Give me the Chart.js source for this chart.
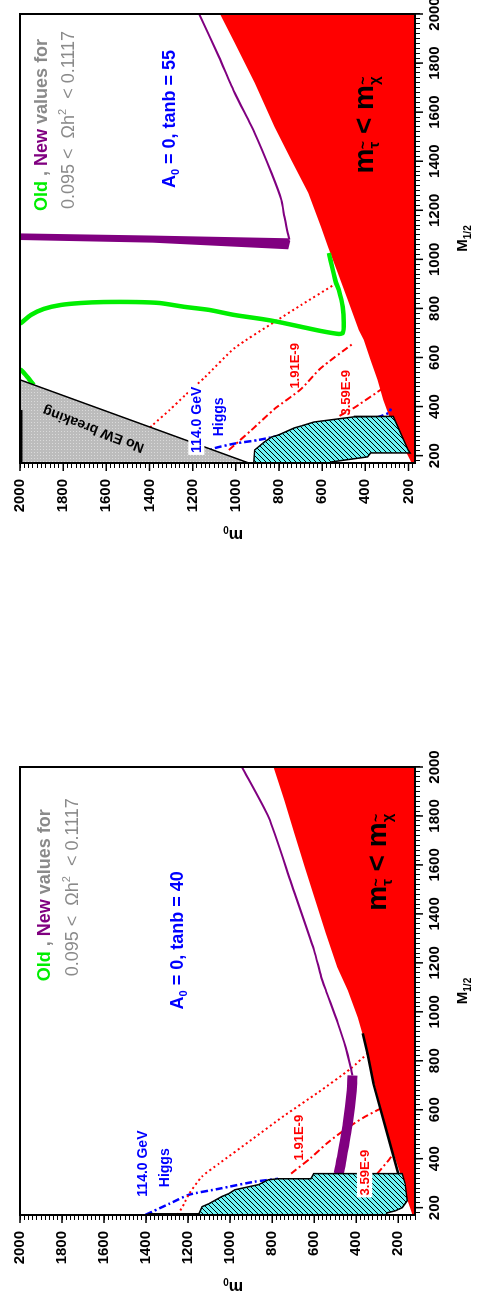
<!DOCTYPE html>
<html>
<head>
<meta charset="utf-8">
<title>M1/2 - m0 planes, tan beta = 40 and 55</title>
<script src="https://cdn.jsdelivr.net/npm/chart.js@4.4.1/dist/chart.umd.min.js"></script>
<style>
  html, body { margin:0; padding:0; background:#fff; width:480px; height:1306px; overflow:hidden; }
  #rot { position:absolute; left:0; top:0; width:1340px; height:480px; transform-origin:0 0;
         transform:translate(0px,1306px) rotate(-90deg); }
  #w40 { position:absolute; left:0; top:0; width:600px; height:480px; }
  #w55 { position:absolute; left:600px; top:0; width:740px; height:480px; }
</style>
</head>
<body>
<div id="rot">
  <div id="w40"><canvas id="c40" width="600" height="480"></canvas></div>
  <div id="w55"><canvas id="c55" width="740" height="480"></canvas></div>
</div>
<script>
// ================= DATA (points are [M_1/2, m_0] in GeV) =================
const tickLabelValues = [200, 400, 600, 800, 1000, 1200, 1400, 1600, 1800, 2000];
const tickLabels = ['200', '400', '600', '800', '1000', '1200', '1400', '1600', '1800', '2000'];

// ---- tan beta = 40 panel ----
const red40 = [[163,129],[257,167],[339,190],[462,238],[637,294],[760,330],[895,365],[977,393],[1088,440],
  [1182,490],[1321,545],[1456,595],[1591,645],[1730,695],[1865,742],[2000,794]];
const old40 = [[912,369],[830,346],[707,318],[502,252],[339,200]];
const purpleThin40 = [[2000,944],[1795,817],[1525,709],[1251,600],[1145,567],[1088,544],[953,487],[854,450],[772,426],[740,418]];
const purpleBand40 = [[740,418],[678,421],[543,440],[404,468],[339,483]];
const cyan40 = [[165,1402],[170,1402],[175,1383],[175,1148],[204,1134],[216,1101],[245,1040],[257,1007],[273,978],
  [294,865],[314,818],[318,771],[318,616],[339,602],[339,181],[298,167],[228,157],[200,181],[187,214],[179,252],[167,261],[165,261]];
const dotted40 = [[171,1249],[216,1219],[257,1195],[327,1134],[380,1053],[478,897],[576,742],[670,582],[768,426],[830,346]];
const bsg191_40 = [[339,710],[404,615],[466,535],[527,440],[568,365],[609,275]];
const bsg359_40 = [[339,300],[400,240],[430,215]];
const higgs40 = [[171,1402],[216,1289],[253,1195],[277,1054],[306,884],[318,771]];

// ---- tan beta = 55 panel ----
const red55 = [[165,183],[183,193],[264,239],[346,284],[427,317],[509,344],[590,376],[672,408],[712,431],[835,482],
  [945,528],[1051,573],[1132,606],[1271,665],[1405,743],[1540,821],[1719,913],[1882,1005],[2000,1073]];
const noEW55 = [[150,877],[170,940],[509,2000],[541,2100]];
const edgeBar55 = [[170,2000],[386,2000]];
const cyan55 = [[165,917],[170,917],[223,913],[256,867],[276,835],[284,803],[313,729],[321,697],[337,638],[358,454],
  [360,271],[223,202],[211,193],[211,376],[195,390],[174,560],[165,560]];
const green55 = [[735,2010],[741,1995],[773,1950],[798,1890],[814,1812],[822,1720],[826,1615],[826,1463],[822,1353],
  [806,1234],[794,1124],[773,1005],[757,881],[745,803],[725,697],[708,606],[696,523],[700,505],[741,500],[806,505],
  [875,523],[908,537],[1026,569]];
const green55b = [[552,2010],[549,1995],[520,1965],[488,1936]];
const purpleBand55 = [[1106,2010],[1097,1385],[1086,760],[1075,748],[1041,757],[1068,1385],[1079,2010]];
const purpleThin55 = [[1080,752],[1107,760],[1173,775],[1242,789],[1352,835],[1515,913],[1678,1005],[1825,1078],[2000,1170]];
const dotted55 = [[300,1415],[325,1385],[386,1307],[447,1234],[521,1142],[639,1005],[745,821],[814,697],[896,546]];
const bsg191_55 = [[223,1032],[305,927],[390,821],[470,700],[557,606],[659,454]];
const bsg359_55 = [[362,520],[394,454],[468,330],[490,300]];
const higgs55 = [[205,1160],[231,1096],[250,1000],[264,894],[300,700],[340,500],[355,350],[375,290],[392,282]];

// ================= STYLE =================
const FONT = "'Liberation Sans', Arial, Helvetica, sans-serif";
function hasFont(name) {
  const c = document.createElement('canvas').getContext('2d');
  c.font = '20px monospace'; const a = c.measureText('abcdefghij0123456789').width;
  c.font = "20px '" + name + "', monospace"; const b = c.measureText('abcdefghij0123456789').width;
  return Math.abs(a - b) > 0.5;
}
const NARROW = hasFont('Liberation Sans Narrow') ? "'Liberation Sans Narrow', 'Liberation Sans', sans-serif" : null;
const TICKFONT = NARROW ? { family: NARROW, size: 18, weight: 'bold' } : { family: FONT, size: 15, weight: 'bold' };
const SMALL = NARROW ? { f: NARROW, s: 16 } : { f: FONT, s: 13 };
const MID = NARROW ? { f: NARROW, s: 17 } : { f: FONT, s: 14 };

const GREEN = '#00ee00', PURPLE = '#800080', GREY = '#8a8a8a', BLUE = '#0000ff', RED = '#ff0000';

function greyPattern() {
  const c = document.createElement('canvas'); c.width = 3; c.height = 3;
  const g = c.getContext('2d');
  g.fillStyle = '#bcbcbc'; g.fillRect(0, 0, 3, 3);
  g.fillStyle = '#dadada'; g.fillRect(1, 1, 1, 1);
  return g.createPattern(c, 'repeat');
}
function hatchPattern() {
  const s = 5, c = document.createElement('canvas'); c.width = s; c.height = s;
  const g = c.getContext('2d');
  g.fillStyle = '#6cf6f6'; g.fillRect(0, 0, s, s);
  g.strokeStyle = '#000'; g.lineWidth = 1;
  g.beginPath();
  g.moveTo(0, s); g.lineTo(s, 0);
  g.moveTo(-1, 1); g.lineTo(1, -1);
  g.moveTo(s - 1, s + 1); g.lineTo(s + 1, s - 1);
  g.stroke();
  return g.createPattern(c, 'repeat');
}
const GREYPAT = greyPattern(), HATCH = hatchPattern();

const P = a => a.map(p => ({ x: p[0], y: p[1] }));
function area(arr, bg, fill, order, extra) {
  return Object.assign({ data: P(arr), showLine: true, fill: fill, backgroundColor: bg, borderWidth: 0,
    borderColor: 'rgba(0,0,0,0)', pointRadius: 0, clip: 0, tension: 0, order: order }, extra || {});
}
function curve(arr, color, width, dash, order, extra) {
  return Object.assign({ data: P(arr), showLine: true, fill: false, borderColor: color, borderWidth: width,
    borderDash: dash || [], backgroundColor: 'rgba(0,0,0,0)', pointRadius: 0, clip: 0, tension: 0.2, order: order }, extra || {});
}
const DOT = [2, 3], DASHDOT = [7, 3, 2, 3];

// ================= TEXT ANNOTATIONS (placed in data coordinates) =================
function legendRuns() {
  return [{ t: 'Old', s: 18, c: GREEN }, { t: ' , ', s: 18, c: GREY }, { t: 'New', s: 18, c: PURPLE }, { t: ' values for', s: 18, c: GREY }];
}
function omegaRuns() {
  return [{ t: '0.095 <  \u03A9h', s: 18, w: 'normal', c: GREY }, { t: '2', s: 11, w: 'normal', c: GREY, dy: -8 },
          { t: '  < 0.1117', s: 18, w: 'normal', c: GREY }];
}
function a0Runs(tb) {
  return [{ t: 'A', s: 18, c: BLUE }, { t: '0', s: 11, c: BLUE, dy: 4 }, { t: ' = 0, tanb = ' + tb, s: 18, c: BLUE }];
}
function staRuns() {
  return [{ t: 'm', s: 28, c: '#000' }, { t: '\u03C4', s: 15, c: '#000', dy: 6, tilde: true },
          { t: ' < m', s: 28, c: '#000' }, { t: '\u03C7', s: 15, c: '#000', dy: 6, tilde: true }];
}
const ANNOT = {
  c40: [
    { M: 1476, m0: 1887, runs: legendRuns() },
    { M: 1509, m0: 1755, runs: omegaRuns() },
    { M: 1292, m0: 1255, runs: a0Runs(40) },
    { M: 1611, m0: 308, runs: staRuns() },
    { M: 486, m0: 676, runs: [{ t: '1.91E-9', s: SMALL.s, f: SMALL.f, c: RED }] },
    { M: 343, m0: 360, bg: true, runs: [{ t: '3.59E-9', s: SMALL.s, f: SMALL.f, c: RED }] },
    { M: 380, m0: 1420, runs: [{ t: '114.0 GeV', s: MID.s, f: MID.f, c: BLUE }] },
    { M: 363, m0: 1317, runs: [{ t: 'Higgs', s: MID.s, f: MID.f, c: BLUE }] }
  ],
  c55: [
    { M: 1548, m0: 1904, runs: legendRuns() },
    { M: 1568, m0: 1780, runs: omegaRuns() },
    { M: 1572, m0: 1312, runs: a0Runs(55) },
    { M: 1548, m0: 413, runs: staRuns() },
    { M: 566, m0: 729, runs: [{ t: '1.91E-9', s: SMALL.s, f: SMALL.f, c: RED }] },
    { M: 456, m0: 491, runs: [{ t: '3.59E-9', s: SMALL.s, f: SMALL.f, c: RED }] },
    { M: 346, m0: 1183, bg: true, runs: [{ t: '114.0 GeV', s: MID.s, f: MID.f, c: BLUE }] },
    { M: 358, m0: 1083, runs: [{ t: 'Higgs', s: MID.s, f: MID.f, c: BLUE }] },
    { M: 305, m0: 1661, rot: -69, runs: [{ t: 'No EW breaking', s: 14, c: '#000' }] }
  ]
};

function fontOf(r) { return (r.w || 'bold') + ' ' + r.s + 'px ' + (r.f || FONT); }
function drawRuns(ctx, runs, cx, cy, bg) {
  const ws = runs.map(r => { ctx.font = fontOf(r); return ctx.measureText(r.t).width; });
  const total = ws.reduce((a, b) => a + b, 0);
  const S = Math.max.apply(null, runs.map(r => r.s));
  const capH = S * 0.72;
  if (bg) { ctx.fillStyle = '#fff'; ctx.fillRect(cx - total / 2 - 2, cy - capH / 2 - 3, total + 4, capH + 6); }
  let x = cx - total / 2; const base = cy + capH / 2;
  ctx.textAlign = 'left'; ctx.textBaseline = 'alphabetic';
  runs.forEach((r, i) => {
    ctx.font = fontOf(r); ctx.fillStyle = r.c;
    ctx.fillText(r.t, x, base + (r.dy || 0));
    if (r.tilde) {
      ctx.font = 'bold ' + Math.round(r.s * 0.9) + 'px ' + FONT;
      const tw = ctx.measureText('~').width;
      ctx.fillText('~', x + ws[i] / 2 - tw / 2, base + (r.dy || 0) - r.s * 0.72);
    }
    x += ws[i];
  });
}

const deco = {
  id: 'deco',
  afterDatasetsDraw(chart) {
    const ctx = chart.ctx, xs = chart.scales.x, ys = chart.scales.y;
    (ANNOT[chart.canvas.id] || []).forEach(a => {
      const px = xs.getPixelForValue(a.M), py = ys.getPixelForValue(a.m0);
      ctx.save();
      ctx.translate(px, py);
      if (a.rot) ctx.rotate(a.rot * Math.PI / 180);
      drawRuns(ctx, a.runs, 0, 0, a.bg);
      ctx.restore();
    });
  },
  afterDraw(chart) {
    const ctx = chart.ctx, a = chart.chartArea, xs = chart.scales.x, ys = chart.scales.y;
    ctx.save();
    ctx.strokeStyle = '#000'; ctx.lineWidth = 2;
    ctx.strokeRect(a.left, a.top, a.right - a.left, a.bottom - a.top);
    // longer marks at labelled ticks
    ctx.lineWidth = 1.5; ctx.beginPath();
    tickLabelValues.forEach(v => {
      if (v >= xs.min && v <= xs.max) { const p = xs.getPixelForValue(v); ctx.moveTo(p, a.bottom); ctx.lineTo(p, a.bottom + 8); }
      if (v >= ys.min && v <= ys.max) { const p = ys.getPixelForValue(v); ctx.moveTo(a.left, p); ctx.lineTo(a.left - 8, p); }
    });
    ctx.stroke();
    // axis titles
    ctx.fillStyle = '#000'; ctx.textBaseline = 'alphabetic'; ctx.textAlign = 'left';
    ctx.font = 'bold 15px ' + FONT; const wM = ctx.measureText('M').width;
    ctx.font = 'bold 10px ' + FONT; const wS = ctx.measureText('1/2').width;
    const cx = (a.left + a.right) / 2, bx = cx - (wM + wS) / 2, by = a.bottom + 52;
    ctx.font = 'bold 15px ' + FONT; ctx.fillText('M', bx, by);
    ctx.font = 'bold 10px ' + FONT; ctx.fillText('1/2', bx + wM, by + 4);
    ctx.translate(a.left - 67, a.top + 213);
    ctx.rotate(-Math.PI / 2);
    ctx.font = 'bold 16px ' + FONT; const wm = ctx.measureText('m').width;
    ctx.font = 'bold 10px ' + FONT; const w0 = ctx.measureText('0').width;
    ctx.font = 'bold 16px ' + FONT; ctx.fillText('m', -(wm + w0) / 2, 0);
    ctx.font = 'bold 10px ' + FONT; ctx.fillText('0', -(wm + w0) / 2 + wm, 4);
    ctx.restore();
  }
};

function axis(min, max, horizontal, size) {
  const vals = [];
  for (let v = Math.ceil(min / 20) * 20; v <= max; v += 20) vals.push(v);
  return {
    type: 'linear', min: min, max: max, position: horizontal ? 'bottom' : 'left',
    afterBuildTicks: s => { s.ticks = vals.map(v => ({ value: v })); },
    afterFit: s => { if (horizontal) s.height = size; else s.width = size; },
    ticks: {
      autoSkip: false, maxRotation: 0, minRotation: 0, padding: horizontal ? 6 : 11, color: '#000', font: TICKFONT,
      callback: v => { const i = tickLabelValues.indexOf(v); return i >= 0 ? tickLabels[i] : ''; }
    },
    grid: { display: true, drawOnChartArea: false, drawTicks: true, tickLength: 5, tickColor: '#000', tickWidth: 1 },
    border: { display: true, color: '#000', width: 2 }
  };
}

function build(id, datasets, yMin, yWidth, padRight) {
  return new Chart(document.getElementById(id), {
    type: 'scatter',
    data: { datasets: datasets },
    options: {
      responsive: false, animation: false, events: [],
      layout: { padding: { left: 0, top: 16, right: padRight, bottom: 0 } },
      plugins: { legend: { display: false }, tooltip: { enabled: false } },
      scales: { x: axis(170, 2000, true, 65), y: axis(yMin, 2000, false, yWidth) }
    },
    plugins: [deco]
  });
}

build('c40', [
  area(red40, RED, 'start', 20),
  curve(dotted40, RED, 2, DOT, 12),
  curve(bsg191_40, RED, 2, DASHDOT, 12),
  curve(bsg359_40, RED, 2, DASHDOT, 12),
  curve(higgs40, BLUE, 2.5, DASHDOT, 12),
  curve(purpleThin40, PURPLE, 2, [], 10),
  curve(purpleBand40, PURPLE, 10, [], 10, { borderCapStyle: 'butt' }),
  curve(old40, '#000', 2.5, [], 9, { tension: 0 }),
  area(cyan40, HATCH, 'shape', 5, { borderColor: '#000', borderWidth: 1.5 })
], 120, 91, 61);

build('c55', [
  area(red55, RED, 'start', 20),
  curve(dotted55, RED, 2, DOT, 12),
  curve(bsg191_55, RED, 2, DASHDOT, 12),
  curve(bsg359_55, RED, 2, DASHDOT, 12),
  curve(higgs55, BLUE, 2.5, DASHDOT, 12),
  curve(green55, GREEN, 4.5, [], 10),
  curve(green55b, GREEN, 4.5, [], 10),
  curve(purpleThin55, PURPLE, 2, [], 10),
  area(purpleBand55, PURPLE, 'shape', 10),
  area(noEW55, GREYPAT, 'end', 7, { borderColor: '#000', borderWidth: 1.5 }),
  curve(edgeBar55, '#000', 5, [], 6, { tension: 0 }),
  area(cyan55, HATCH, 'shape', 5, { borderColor: '#000', borderWidth: 1.5 })
], 170, 243, 48);
</script>
</body>
</html>
